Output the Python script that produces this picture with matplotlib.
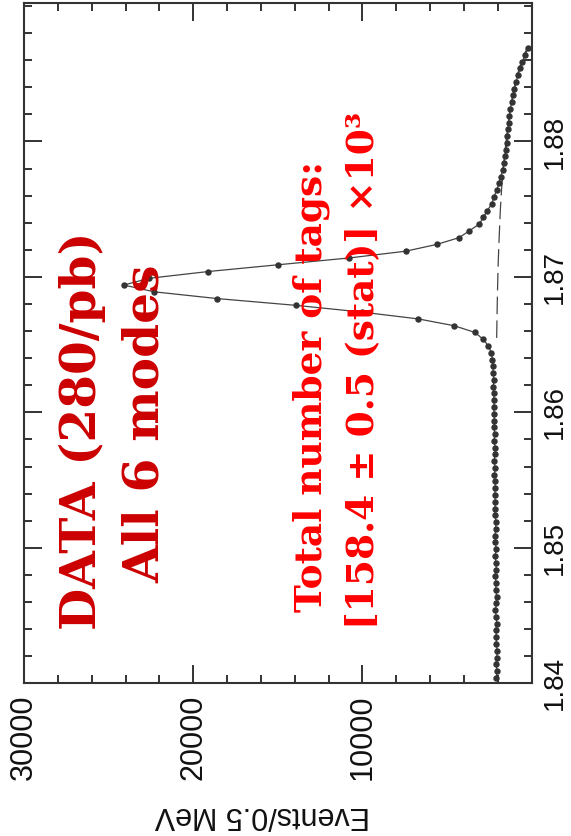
import numpy as np
import matplotlib
matplotlib.use("Agg")
import matplotlib.pyplot as plt
from matplotlib.ticker import MultipleLocator

plt.rcParams["font.family"] = ["Liberation Sans", "DejaVu Sans"]

# Beam-constrained mass bins (GeV), 0.5 MeV wide
mass = np.round(1.8404 + 0.0005 * np.arange(94), 5)

# Events per 0.5 MeV bin
events = [
    2090, 2050, 2110, 2070, 2030, 2100, 2080, 2120, 2060, 2100,
    2140, 2090, 2070, 2130, 2110, 2150, 2090, 2120, 2160, 2100,
    2140, 2170, 2130, 2110, 2160, 2180, 2140, 2190, 2150, 2170,
    2200, 2160, 2210, 2180, 2150, 2220, 2190, 2230, 2200, 2240,
    2210, 2250, 2230, 2270, 2240, 2280, 2290, 2320, 2380, 2560,
    2870, 3350, 4590, 6700, 10000, 13920, 18570, 22300, 24100, 22600,
    19100, 14970, 10790, 7440, 5610, 4290, 3690, 3100, 2860, 2620,
    2360, 2230, 2070, 1930, 1830, 1710, 1640, 1580, 1520, 1460,
    1430, 1400, 1370, 1320, 1260, 1190, 1110, 1020, 920, 810,
    690, 550, 390, 210,
]

# Background component of the fit
bkg_mass = [1.8655, 1.8670, 1.8690, 1.8710, 1.8730, 1.8750, 1.8765, 1.8780,
            1.8795, 1.8810, 1.8825, 1.8840, 1.8850, 1.8860, 1.8866, 1.8870]
bkg_events = [2070, 2050, 2020, 1980, 1920, 1850, 1780, 1680,
              1560, 1420, 1250, 1020, 830, 570, 380, 180]

event_ticks = [10000, 20000, 30000]
event_labels = ["10000", "20000", "30000"]
mass_ticks = [1.84, 1.85, 1.86, 1.87, 1.88]
mass_labels = ["1.84", "1.85", "1.86", "1.87", "1.88"]

W, H = 571, 836
fig = plt.figure(figsize=(W / 100, H / 100), dpi=100)


def fx(px):
    return px / W


def fy(py):
    return 1 - py / H


ax = fig.add_axes([fx(24), fy(683.3), 507.7 / W, 680 / H])

ax.plot(events, mass, "-", color="#444444", lw=0.9, zorder=2)
ax.plot(events, mass, "o", ms=3.6, color="#333333", mec="#333333", zorder=3)
ax.plot(bkg_events, bkg_mass, color="#444444", lw=0.9, dashes=(14, 5), zorder=1)

ax.set_xlim(30000, 0)
ax.set_ylim(1.84, 1.8902)

ax.set_xticks(event_ticks)
ax.set_xticklabels(event_labels)
ax.xaxis.set_minor_locator(MultipleLocator(2000))
ax.set_yticks(mass_ticks)
ax.set_yticklabels(mass_labels)
ax.yaxis.set_minor_locator(MultipleLocator(0.002))

ax.tick_params(which="both", direction="in", top=True, bottom=True, left=True,
               right=True, labelleft=False, labelright=True, labelbottom=True,
               width=1.4, color="#333333", labelcolor="#111111")
ax.tick_params(which="major", length=13)
ax.tick_params(which="minor", length=6)
ax.tick_params(axis="x", labelrotation=90, labelsize=22, pad=8)
ax.tick_params(axis="y", labelrotation=90, labelsize=20, pad=7.5)
for lab in ax.get_yticklabels():
    lab.set_va("center")
for sp in ax.spines.values():
    sp.set_linewidth(1.5)
    sp.set_color("#333333")

fig.text(fx(262), fy(815), "Events/0.5 MeV", rotation=180, ha="center",
         va="center", fontsize=22, color="#111111")

serif = dict(family=["DejaVu Serif"], weight="bold", rotation=90,
             ha="center", va="center", zorder=5)
fig.text(fx(82), fy(431), "DATA (280/pb)", fontsize=35, color="#CC0000", **serif)
fig.text(fx(145), fy(424), "All 6 modes", fontsize=35, color="#CC0000", **serif)
fig.text(fx(311), fy(386), "Total number of tags:", fontsize=27,
         color="#FF0000", **serif)
fig.text(fx(363), fy(370), "[158.4 \u00b1 0.5 (stat)] \u00d710\u00b3", fontsize=27,
         color="#FF0000", **serif)

fig.savefig("out.png", dpi=100)
